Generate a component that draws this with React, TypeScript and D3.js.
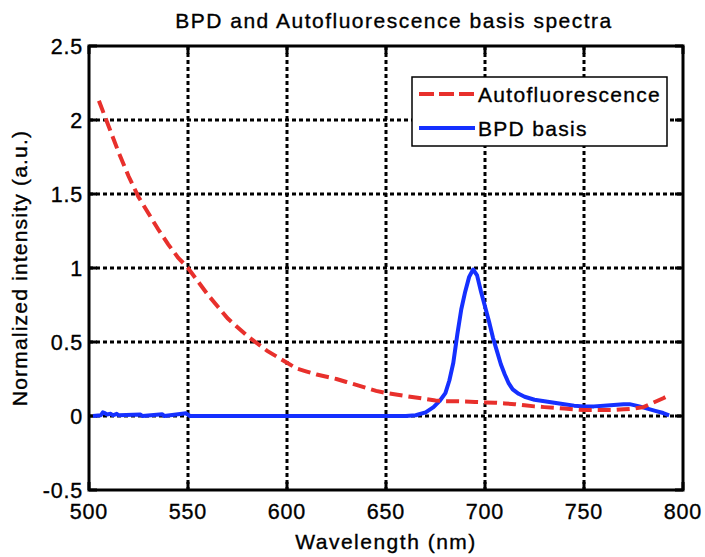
import React from "react";
import * as d3 from "d3";

const title = "BPD and Autofluorescence basis spectra";
const xLabel = "Wavelength (nm)";
const yLabel = "Normalized intensity (a.u.)";
const xTicks = [500, 550, 600, 650, 700, 750, 800];
const yTicks = [-0.5, 0, 0.5, 1, 1.5, 2, 2.5];
const yTickLabels = ["-0.5", "0", "0.5", "1", "1.5", "2", "2.5"];
const seriesNames = ["Autofluorescence", "BPD basis"];

const autoWl = [505, 509, 515, 520, 525, 530, 535, 540, 545, 550, 555, 560, 565, 570, 575, 580, 585, 590, 595, 600, 605, 610, 615, 620, 625, 630, 635, 640, 645, 650, 655, 660, 665, 670, 675, 680, 685, 690, 695, 700, 705, 710, 715, 720, 725, 730, 735, 740, 745, 750, 755, 760, 765, 770, 775, 780, 785, 790, 793];
const autoVal = [2.13, 1.99, 1.78, 1.62, 1.48, 1.37, 1.26, 1.16, 1.07, 1.0, 0.91, 0.82, 0.74, 0.66, 0.6, 0.54, 0.49, 0.44, 0.4, 0.36, 0.32, 0.3, 0.28, 0.265, 0.25, 0.23, 0.21, 0.19, 0.17, 0.155, 0.145, 0.135, 0.125, 0.115, 0.105, 0.1, 0.1, 0.098, 0.095, 0.092, 0.09, 0.085, 0.08, 0.072, 0.065, 0.06, 0.055, 0.05, 0.045, 0.04, 0.04, 0.04, 0.04, 0.045, 0.05, 0.06, 0.09, 0.12, 0.14];

const bpdWl = [502, 506, 507, 508, 509, 511, 512, 514, 515, 526, 527, 537, 538, 549, 551, 620, 660, 665, 670, 674, 677, 680, 682, 684, 686, 688, 690, 692, 694, 696, 698, 700, 702, 704, 706, 708, 710, 712, 714, 717, 720, 725, 730, 735, 740, 745, 750, 755, 760, 765, 770, 773, 778, 782, 786, 790, 793];
const bpdVal = [0, 0.005, 0.025, 0.02, 0.01, 0.015, 0.005, 0.015, 0.005, 0.01, 0, 0.012, 0, 0.018, 0, 0, 0, 0.005, 0.025, 0.06, 0.1, 0.155, 0.24, 0.36, 0.55, 0.72, 0.84, 0.94, 0.99, 0.95, 0.84, 0.74, 0.64, 0.53, 0.44, 0.35, 0.28, 0.22, 0.18, 0.15, 0.13, 0.11, 0.1, 0.09, 0.08, 0.07, 0.065, 0.065, 0.07, 0.075, 0.08, 0.08, 0.065, 0.05, 0.035, 0.02, 0.005];

const W = 705;
const H = 557;
const L = 89, R = 683, T = 46, B = 490;
const FONT = "'Liberation Sans', Arial, Helvetica, sans-serif";
const RED = "#e8302c";
const BLUE = "#1530ff";
const textStyle = { stroke: "#000", strokeWidth: 0.35 };

export default function App() {
  const x = d3.scaleLinear().domain([500, 800]).range([L, R]);
  const y = d3.scaleLinear().domain([-0.5, 2.5]).range([B, T]);
  const line = d3.line<[number, number]>().x((d) => x(d[0])).y((d) => y(d[1]));
  const autoPts = autoWl.map((w, i) => [w, autoVal[i]] as [number, number]);
  const bpdPts = bpdWl.map((w, i) => [w, bpdVal[i]] as [number, number]);
  const tickLen = 8;

  return (
    <svg width={W} height={H} style={{ position: "absolute", left: 0, top: 0, background: "#fff" }} fontFamily={FONT}>
      <rect x={0} y={0} width={W} height={H} fill="#fff" />
      {xTicks.slice(1, -1).map((t) => (
        <line key={"gx" + t} x1={x(t)} x2={x(t)} y1={T} y2={B} stroke="#000" strokeWidth={3} strokeDasharray="4,3" />
      ))}
      {yTicks.slice(1, -1).map((t) => (
        <line key={"gy" + t} x1={L} x2={R} y1={y(t)} y2={y(t)} stroke="#000" strokeWidth={3} strokeDasharray="4,3" />
      ))}
      {xTicks.map((t) => (
        <g key={"tx" + t}>
          <line x1={x(t)} x2={x(t)} y1={B} y2={B - tickLen} stroke="#000" strokeWidth={3} />
          <line x1={x(t)} x2={x(t)} y1={T} y2={T + tickLen} stroke="#000" strokeWidth={3} />
          <text x={x(t)} y={519} textAnchor="middle" fontSize={21.5} letterSpacing={0.8} fill="#000" style={textStyle}>{t}</text>
        </g>
      ))}
      {yTicks.map((t, i) => (
        <g key={"ty" + t}>
          <line x1={L} x2={L + tickLen} y1={y(t)} y2={y(t)} stroke="#000" strokeWidth={3} />
          <line x1={R} x2={R - tickLen} y1={y(t)} y2={y(t)} stroke="#000" strokeWidth={3} />
          <text x={83} y={y(t) + 8} textAnchor="end" fontSize={21.5} letterSpacing={0.8} fill="#000" style={textStyle}>{yTickLabels[i]}</text>
        </g>
      ))}
      <path d={line(bpdPts) || ""} fill="none" stroke={BLUE} strokeWidth={4} strokeLinejoin="round" />
      <path d={line(autoPts) || ""} fill="none" stroke={RED} strokeWidth={4} strokeDasharray="13,6" />
      <rect x={L} y={T} width={R - L} height={B - T} fill="none" stroke="#000" strokeWidth={3} />
      <rect x={412} y={77} width={255} height={69} fill="#fff" stroke="#000" strokeWidth={1.5} />
      <line x1={419} x2={475} y1={94} y2={94} stroke={RED} strokeWidth={4} strokeDasharray="15,5" />
      <line x1={419} x2={475} y1={128} y2={128} stroke={BLUE} strokeWidth={4} />
      <text x={478} y={102} fontSize={21} letterSpacing={1.3} fill="#000" style={textStyle}>{seriesNames[0]}</text>
      <text x={478} y={136} fontSize={21} letterSpacing={1.3} fill="#000" style={textStyle}>{seriesNames[1]}</text>
      <text x={(L + R) / 2 + 8} y={28} textAnchor="middle" fontSize={21} letterSpacing={1.5} fill="#000" style={textStyle}>{title}</text>
      <text x={(L + R) / 2} y={549} textAnchor="middle" fontSize={21} letterSpacing={1.5} fill="#000" style={textStyle}>{xLabel}</text>
      <text transform={`translate(27,${(T + B) / 2}) rotate(-90)`} textAnchor="middle" fontSize={21} letterSpacing={1.2} fill="#000" style={textStyle}>{yLabel}</text>
    </svg>
  );
}
